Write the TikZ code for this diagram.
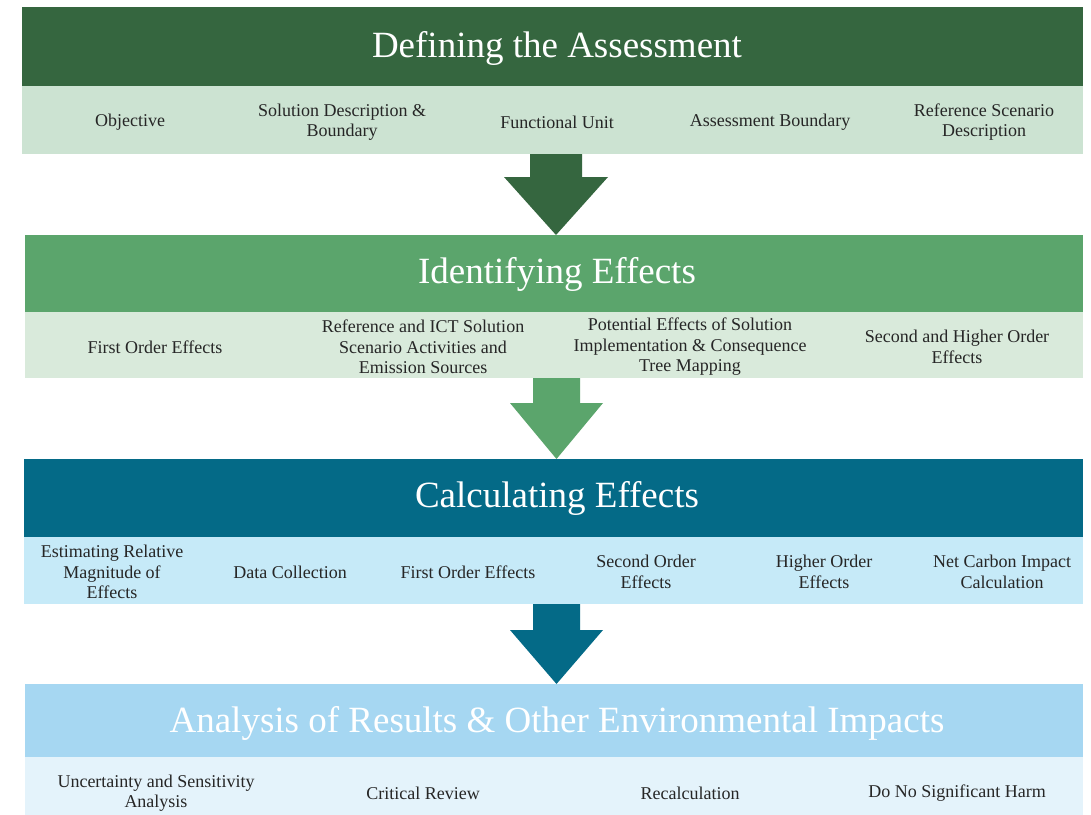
\documentclass[tikz,border=0pt]{standalone}
\usepackage{fontspec}
\setmainfont{Liberation Serif}
\definecolor{hA}{HTML}{35663F}
\definecolor{sA}{HTML}{CCE3D2}
\definecolor{hB}{HTML}{5BA56C}
\definecolor{sB}{HTML}{D9EADB}
\definecolor{hC}{HTML}{046A87}
\definecolor{sC}{HTML}{C6EAF8}
\definecolor{hD}{HTML}{A6D7F2}
\definecolor{sD}{HTML}{E4F3FB}
\definecolor{txt}{HTML}{262626}
\tikzset{
  band/.style={rectangle, inner sep=0pt, outer sep=0pt, draw=none},
  title/.style={text=white, font=\fontsize{37}{40}\selectfont},
  item/.style={text=txt, align=center, inner sep=0pt, font=\fontsize{18}{20.5}\selectfont},
}
\begin{document}
\begin{tikzpicture}[x=1pt, y=-1pt]
\useasboundingbox[fill=white] (0,0) rectangle (1091,814);
% bands
\node[band, fill=hA, minimum width=1061pt, minimum height=79pt] (h1) at (552.5,46.5) {};
\node[band, fill=sA, minimum width=1061pt, minimum height=68pt] (s1) at (552.5,120) {};
\node[band, fill=hB, minimum width=1058pt, minimum height=77pt] (h2) at (554,273.5) {};
\node[band, fill=sB, minimum width=1058pt, minimum height=66pt] (s2) at (554,345) {};
\node[band, fill=hC, minimum width=1059pt, minimum height=78pt] (h3) at (553.5,498) {};
\node[band, fill=sC, minimum width=1059pt, minimum height=67pt] (s3) at (553.5,570.5) {};
\node[band, fill=hD, minimum width=1058pt, minimum height=73pt] (h4) at (554,720.5) {};
\node[band, fill=sD, minimum width=1058pt, minimum height=58pt] (s4) at (554,786) {};
% titles
\node[title] (t1) at (557,48) {Defining the Assessment};
\node[title] (t2) at (557,274) {Identifying Effects};
\node[title] (t3) at (557,498) {Calculating Effects};
\node[title] (t4) at (557,723) {Analysis of Results \& Other Environmental Impacts};
% arrows
\coordinate (a1) at (556,235);
\coordinate (a2) at (556.5,459);
\coordinate (a3) at (556.5,684);
\fill[hA] (530,154) -- (582,154) -- (582,177) -- (608,177) -- (a1) -- (504,177) -- (530,177) -- cycle;
\fill[hB] (533,378) -- (580,378) -- (580,403) -- (603,403) -- (a2) -- (510,403) -- (533,403) -- cycle;
\fill[hC] (533,604) -- (580,604) -- (580,630) -- (603,630) -- (a3) -- (510,630) -- (533,630) -- cycle;
% band 1 items
\node[item] (i11) at (130,122) {Objective};
\node[item] (i12) at (342,122) {Solution Description \&\\Boundary};
\node[item] (i13) at (557,122) {Functional Unit};
\node[item] (i14) at (770,122) {Assessment Boundary};
\node[item] (i15) at (984,122) {Reference Scenario\\Description};
% band 2 items
\node[item] (i21) at (155,347) {First Order Effects};
\node[item] (i22) at (423,347) {Reference and ICT Solution\\Scenario Activities and\\Emission Sources};
\node[item] (i23) at (690,347) {Potential Effects of Solution\\Implementation \& Consequence\\Tree Mapping};
\node[item] (i24) at (957,347) {Second and Higher Order\\Effects};
% band 3 items
\node[item] (i31) at (112,572) {Estimating Relative\\Magnitude of\\Effects};
\node[item] (i32) at (290,572) {Data Collection};
\node[item] (i33) at (468,572) {First Order Effects};
\node[item] (i34) at (646,572) {Second Order\\Effects};
\node[item] (i35) at (824,572) {Higher Order\\Effects};
\node[item] (i36) at (1002,572) {Net Carbon Impact\\Calculation};
% band 4 items
\node[item] (i41) at (156,793) {Uncertainty and Sensitivity\\Analysis};
\node[item] (i42) at (423,793) {Critical Review};
\node[item] (i43) at (690,793) {Recalculation};
\node[item] (i44) at (957,793) {Do No Significant Harm};
\end{tikzpicture}
\end{document}
